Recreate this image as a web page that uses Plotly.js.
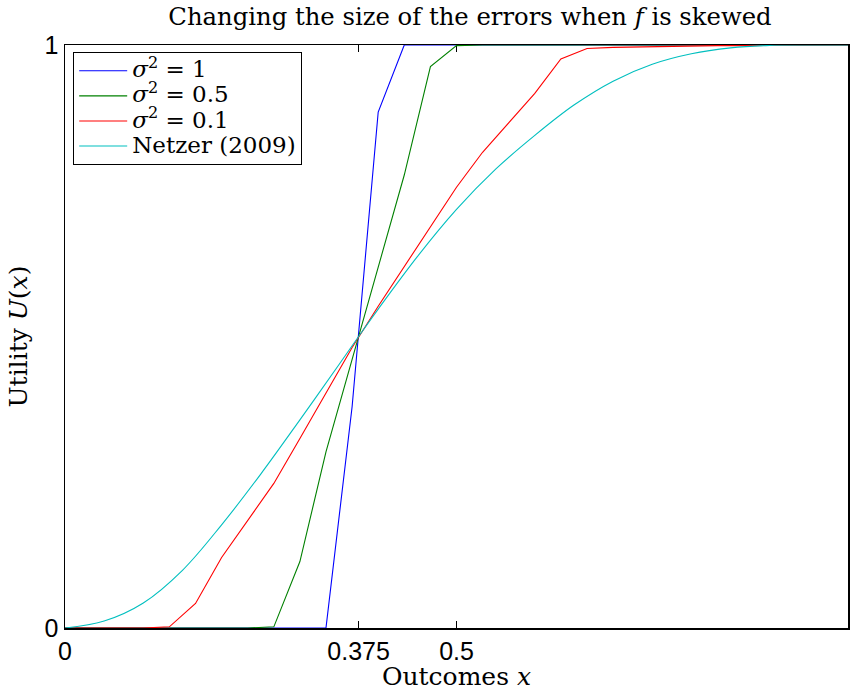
<!DOCTYPE html>
<html>
<head>
<meta charset="utf-8">
<script src="https://cdn.plot.ly/plotly-3.0.1.min.js"></script>
<style>
html,body{margin:0;padding:0;background:#fff;}
#chart{width:851px;height:691px;}
/* LaTeX-style tight legend: large glyphs on compact rows */
.legendtext{font-size:23px !important;}
</style>
</head>
<body>
<div id="chart"></div>
<script>
// grid of outcomes (steps of 1/30)
var xGrid = [0, 0.0333, 0.0667, 0.1, 0.1333, 0.1667, 0.2, 0.2333, 0.2667, 0.3, 0.3333,
             0.3667, 0.4, 0.4333, 0.4667, 0.5, 0.5333, 0.5667, 0.6, 0.6333, 0.6667,
             0.7, 0.7333, 0.7667, 0.8, 0.8333, 0.8667, 0.9, 0.9333, 0.9667, 1];
var uSigma1  = [0,0,0,0,0,0,0,0,0,0,0, 0.38,0.885,1,1,1,1,1,1,1,1, 1,1,1,1,1,1,1,1,1,1];
var uSigma05 = [0,0,0,0,0,0,0,0,0.002,0.114,0.302, 0.46,0.62,0.777,0.963,0.999,1,1,1,1,1, 1,1,1,1,1,1,1,1,1,1];
var uSigma01 = [0,0,0,0,0.002,0.042,0.121,0.185,0.248,0.325,0.403, 0.481,0.552,0.62,0.689,0.756,0.816,0.867,0.917,0.976,0.994,
                0.996,0.997,0.998,0.998,0.999,0.999,1,1,1,1];
// Netzer (2009) curve
var xNetzer = [0, 0.05, 0.1, 0.15, 0.2, 0.25, 0.3, 0.35, 0.375, 0.4, 0.45, 0.5, 0.55, 0.6, 0.65, 0.7, 0.75, 0.8, 0.85, 0.9, 0.95, 1];
var uNetzer = [0, 0.012, 0.043, 0.099, 0.177, 0.264, 0.357, 0.452, 0.5, 0.547, 0.637, 0.718, 0.787, 0.845, 0.897, 0.938, 0.967, 0.985, 0.995, 0.9993, 1, 1];

var seriesNames = ['<i>σ</i><sup>2</sup> = 1', '<i>σ</i><sup>2</sup> = 0.5', '<i>σ</i><sup>2</sup> = 0.1', 'Netzer (2009)'];
var xTicks = [0, 0.375, 0.5, 1];
var xTickText = ['0', '0.375', '0.5', '1'];
var yTicks = [0, 1];
var yTickText = ['0', '1'];

var serif = '"DejaVu Serif", "Liberation Serif", serif';
var sans = '"Liberation Sans", Arial, sans-serif';

var traces = [
  {x: xGrid, y: uSigma1, name: seriesNames[0], mode: 'lines', line: {color: '#0000ff', width: 1.1}, cliponaxis: false},
  {x: xGrid, y: uSigma05, name: seriesNames[1], mode: 'lines', line: {color: '#008000', width: 1.1}, cliponaxis: false},
  {x: xGrid, y: uSigma01, name: seriesNames[2], mode: 'lines', line: {color: '#ff0000', width: 1.1}, cliponaxis: false},
  {x: xNetzer, y: uNetzer, name: seriesNames[3], mode: 'lines', line: {color: '#00bfbf', width: 1.1, shape: 'spline', smoothing: 1}, cliponaxis: false}
];

var axisCommon = {
  showgrid: false, zeroline: false, showline: true, linecolor: '#000', linewidth: 1.5,
  mirror: 'ticks', ticks: 'inside', ticklen: 7, tickwidth: 1, tickcolor: '#000',
  tickfont: {family: sans, size: 25, color: '#000'}, layer: 'below traces', fixedrange: true
};

var layout = {
  width: 851, height: 691,
  margin: {l: 65, r: 3, t: 45, b: 63},
  paper_bgcolor: '#fff', plot_bgcolor: '#fff',
  showlegend: true,
  title: {
    text: 'Changing the size of the errors when <i>f</i> is skewed',
    font: {family: serif, size: 24.3, color: '#000'},
    xref: 'container', x: 0.5523, xanchor: 'center',
    yref: 'container', y: 0.976, yanchor: 'middle'
  },
  xaxis: Object.assign({}, axisCommon, {
    range: [0, 1], tickmode: 'array', tickvals: xTicks, ticktext: xTickText,
    title: {text: 'Outcomes <i>x</i>', font: {family: serif, size: 25, color: '#000'}, standoff: 0}
  }),
  yaxis: Object.assign({}, axisCommon, {
    range: [0, 1], tickmode: 'array', tickvals: yTicks, ticktext: yTickText,
    title: {text: 'Utility <i>U</i>(<i>x</i>)', font: {family: serif, size: 25, color: '#000'}, standoff: 10}
  }),
  legend: {
    x: 0.0102, y: 0.988, xanchor: 'left', yanchor: 'top',
    bgcolor: '#fff', bordercolor: '#000', borderwidth: 1.2,
    font: {family: serif, size: 17, color: '#000'},
    tracegroupgap: 0, itemwidth: 48
  }
};

Plotly.newPlot('chart', traces, layout, {staticPlot: true, displayModeBar: false});
</script>
</body>
</html>
